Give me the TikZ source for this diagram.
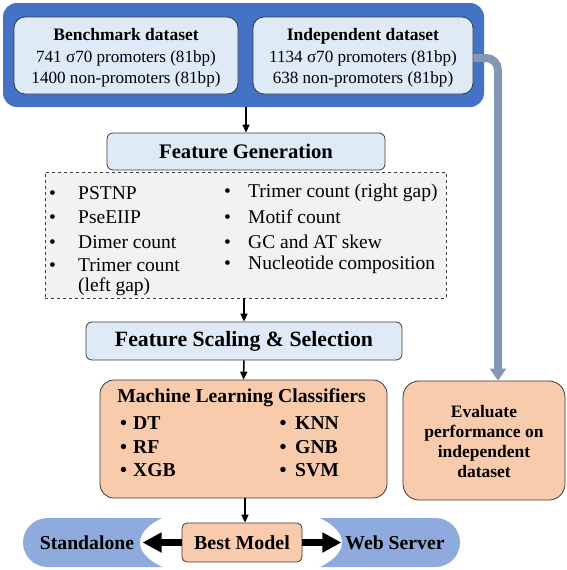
\documentclass[tikz,border=0pt]{standalone}
\usepackage{fontspec}
\setmainfont{Liberation Serif}
\usetikzlibrary{arrows.meta,shapes.geometric}
\definecolor{outerblue}{HTML}{4472C4}
\definecolor{lightblue}{HTML}{DEEBF7}
\definecolor{peach}{HTML}{F8CBAD}
\definecolor{pillblue}{HTML}{8FAADC}
\definecolor{grayline}{HTML}{8497B0}
\definecolor{lightgray}{HTML}{F2F2F2}
\definecolor{edge}{HTML}{3A3A3A}
\tikzset{
  box/.style={draw=edge, line width=0.8pt, inner sep=0pt, align=center},
  dsbox/.style={box, fill=lightblue, rounded corners=11pt, minimum height=77pt},
  stagebox/.style={box, fill=lightblue, rounded corners=6pt, font=\fontsize{20.7}{24}\selectfont\bfseries},
  peachbox/.style={box, fill=peach},
  flow/.style={-{Triangle[length=8pt,width=7pt]}, line width=1.5pt, black},
  bigflow/.style={-{Triangle[length=19pt,width=19pt]}, line width=7pt, black},
  featitem/.style={anchor=west, inner sep=0pt, font=\fontsize{19.5}{22}\selectfont},
  mlitem/.style={anchor=west, inner sep=0pt, font=\fontsize{19.7}{22}\selectfont\bfseries},
}
\begin{document}
\begin{tikzpicture}[x=1pt,y=-1pt]
\useasboundingbox (0,0) rectangle (567,570);
% top datasets
\node[fill=outerblue, rounded corners=14pt, minimum width=481pt, minimum height=104pt, inner sep=0pt] (outer) at (243.5,55) {};
\node[dsbox, minimum width=224pt] (bench) at (126,55.5) {};
\node[inner sep=0pt, align=center, font=\fontsize{17.1}{21.7}\selectfont] (benchtxt) at (126,58)
  {\textbf{\fontsize{17.5}{21.7}\selectfont Benchmark dataset}\\741 σ70 promoters (81bp)\\1400 non-promoters (81bp)};
\node[dsbox, minimum width=220pt] (indep) at (363,55.5) {};
\node[inner sep=0pt, align=center, font=\fontsize{17.1}{21.7}\selectfont] (indeptxt) at (363,58)
  {\textbf{\fontsize{17.5}{21.7}\selectfont Independent dataset}\\1134 σ70 promoters (81bp)\\ 638 non-promoters (81bp)};
% feature generation
\node[stagebox, minimum width=278pt, minimum height=37pt] (fg) at (246,151.5) {Feature Generation};
\node[draw=edge, dashed, line width=0.7pt, fill=lightgray, minimum width=401pt, minimum height=126pt, inner sep=0pt] (feat) at (245.5,235) {};
\node[featitem] (f1) at (49,193) {\makebox[29pt][l]{•}PSTNP};
\node[featitem] (f2) at (49,217) {\makebox[29pt][l]{•}PseEIIP};
\node[featitem] (f3) at (49,242) {\makebox[29pt][l]{•}Dimer count};
\node[featitem] (f4) at (49,265) {\makebox[29pt][l]{•}Trimer count};
\node[featitem] (f4b) at (78,287) {(left gap)};
\node[featitem] (f5) at (224,193) {\makebox[24pt][l]{•}Trimer count (right gap)};
\node[featitem] (f6) at (224,217) {\makebox[24pt][l]{•}Motif count};
\node[featitem] (f7) at (224,242) {\makebox[24pt][l]{•}GC and AT skew};
\node[featitem] (f8) at (224,265) {\makebox[24pt][l]{•}Nucleotide composition};
% feature scaling
\node[stagebox, minimum width=316pt, minimum height=38pt, font=\fontsize{21.8}{24}\selectfont\bfseries] (fs) at (244,341) {Feature Scaling \& Selection};
% ML classifiers
\node[peachbox, rounded corners=14pt, minimum width=287pt, minimum height=118pt] (ml) at (243.5,439) {};
\node[inner sep=0pt, font=\fontsize{19.7}{22}\selectfont\bfseries] (mlt) at (241.5,398) {Machine Learning Classifiers};
\node[mlitem] (m1) at (120,423) {\makebox[13pt][l]{•}DT};
\node[mlitem] (m2) at (120,447) {\makebox[13pt][l]{•}RF};
\node[mlitem] (m3) at (120,470) {\makebox[13pt][l]{•}XGB};
\node[mlitem] (m4) at (279.5,423) {\makebox[15.5pt][l]{•}KNN};
\node[mlitem] (m5) at (279.5,447) {\makebox[15.5pt][l]{•}GNB};
\node[mlitem] (m6) at (279.5,470) {\makebox[15.5pt][l]{•}SVM};
% evaluate
\node[peachbox, rounded corners=16pt, minimum width=162pt, minimum height=119pt] (evalbox) at (484,440.5) {};
\node[inner sep=0pt, align=center, font=\fontsize{17.5}{20}\selectfont\bfseries] (evaltxt) at (484,442)
  {Evaluate\\performance on\\independent\\dataset};
% bottom
\node[fill=pillblue, rounded corners=24.5pt, minimum width=437pt, minimum height=49pt, inner sep=0pt] (pill) at (241.5,542.5) {};
\node[fill=white, ellipse, minimum width=202pt, minimum height=78pt, inner sep=0pt] (cut) at (241,542.5) {};
\node[inner sep=0pt, font=\fontsize{19.7}{22}\selectfont\bfseries] (stand) at (87,543) {Standalone};
\node[inner sep=0pt, font=\fontsize{19.7}{22}\selectfont\bfseries] (web) at (395,543) {Web Server};
\node[peachbox, rounded corners=5pt, minimum width=120pt, minimum height=39pt, font=\fontsize{19.9}{22}\selectfont\bfseries] (best) at (242,542.5) {Best Model};
% connectors
\draw[flow] (fg.north |- outer.south) -- (fg.north);
\draw[flow] (fs.north |- feat.south) -- (fs.north);
\draw[flow] (fs.south) -- (ml.north);
\draw[flow] ([xshift=3pt]best.north |- ml.south) -- ([xshift=3pt]best.north);
\draw[bigflow] (best.west) -- ([xshift=-39pt]best.west);
\draw[bigflow] (best.east) -- ([xshift=39pt]best.east);
\draw[grayline, line width=8pt, rounded corners=12pt, -{Triangle[length=12pt,width=16pt]}]
  ([yshift=-2.5pt]indep.east) -| ([xshift=14pt]evalbox.north);
\end{tikzpicture}
\end{document}
